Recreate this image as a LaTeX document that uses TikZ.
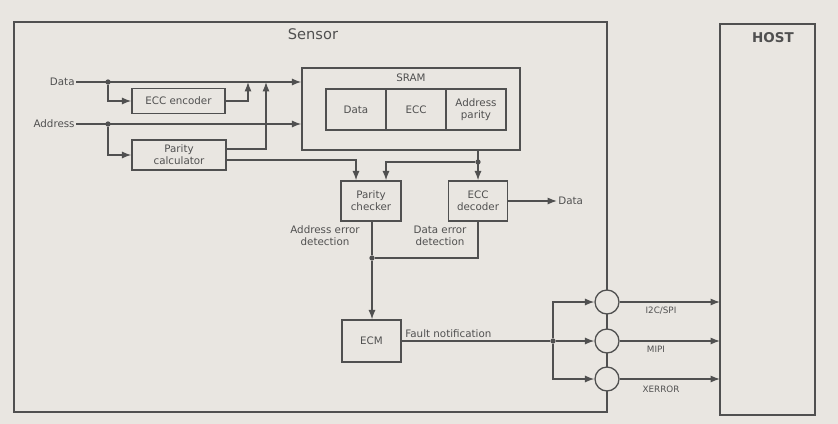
\documentclass[tikz,border=0pt]{standalone}
\usepackage{fontspec}
\setmainfont{DejaVu Sans}
\usetikzlibrary{arrows.meta,calc}
\definecolor{ink}{HTML}{505050}
\definecolor{paper}{HTML}{E9E6E1}
\tikzset{
  wire/.style={draw=ink,line width=1.1pt},
  arr/.style={wire,-{Latex[length=8pt,width=6pt]}},
  blk/.style={draw=ink,line width=1.1pt,align=center,inner sep=0pt,font=\fontsize{8.8}{10}\selectfont,text=ink},
  lbl/.style={font=\fontsize{8.8}{10}\selectfont,text=ink,inner sep=1pt,align=center},
  smalllbl/.style={font=\fontsize{7.5}{8.5}\selectfont,text=ink,inner sep=1pt},
  dot/.style={circle,fill=ink,inner sep=0pt,minimum size=4.5pt},
  port/.style={circle,draw=ink,line width=1.1pt,fill=paper,minimum size=0.72cm,inner sep=0pt}
}
\begin{document}
\begin{tikzpicture}[x=0.03cm,y=-0.03cm]
\fill[paper] (0,0) rectangle (838,424);
\useasboundingbox (0,0) rectangle (838,424);
% outer boxes
\draw[wire] (14,22) rectangle (607,412);
\node[font=\fontsize{12.5}{14}\selectfont,text=ink] (sensorlbl) at (313,34) {Sensor};
\draw[wire] (720,24) rectangle (815,415);
\node[font=\bfseries\fontsize{11.5}{13}\selectfont,text=ink] (hostlbl) at (773,38) {HOST};
\coordinate (hostleft) at (720,200);
% blocks
\node[blk,minimum width=2.79cm,minimum height=0.75cm] (enc) at (178.5,101) {ECC encoder};
\node[blk,minimum width=2.82cm,minimum height=0.9cm] (pcalc) at (179,155) {Parity\\calculator};
\node[blk,minimum width=6.54cm,minimum height=2.46cm] (sram) at (411,109) {};
\node[lbl] (sramlbl) at (411,78) {SRAM};
\node[blk,minimum width=1.8cm,minimum height=1.23cm] (cdata) at (356,109.5) {Data};
\node[blk,minimum width=1.8cm,minimum height=1.23cm] (cecc) at (416,109.5) {ECC};
\node[blk,minimum width=1.8cm,minimum height=1.23cm] (caddr) at (476,109.5) {Address\\parity};
\node[blk,minimum width=1.8cm,minimum height=1.2cm] (chk) at (371,201) {Parity\\checker};
\node[blk,minimum width=1.77cm,minimum height=1.2cm] (dec) at (478,201) {ECC\\decoder};
\node[blk,minimum width=1.77cm,minimum height=1.26cm] (ecm) at (371.5,341) {ECM};
\node[port] (p1) at (607,302) {};
\node[port] (p2) at (607,341) {};
\node[port] (p3) at (607,379) {};
% inputs
\node[lbl,anchor=east] (din) at (76,82) {Data};
\node[lbl,anchor=east] (ain) at (76,124) {Address};
\node[dot] (j1) at (108,82) {};
\node[dot] (j2) at (108,124) {};
\draw[arr] (din.east) -- (din.east -| sram.west);
\draw[arr] (ain.east) -- (ain.east -| sram.west);
\draw[arr] (j1) |- (enc.west);
\draw[arr] (j2) |- (pcalc.west);
\coordinate (encup) at (248,82);
\draw[arr] (enc.east) -| (encup);
\coordinate (pcout1) at ($(pcalc.east)+(0,-6)$);
\coordinate (pcout2) at ($(pcalc.east)+(0,5)$);
\coordinate (pcup) at (266,82);
\draw[arr] (pcout1) -| (pcup);
\coordinate (chkin1) at ($(chk.north)+(-15,0)$);
\coordinate (chkin2) at ($(chk.north)+(15,0)$);
\draw[arr] (pcout2) -| (chkin1);
% SRAM output
\coordinate (sramout) at (sram.south -| dec.north);
\node[dot] (j3) at (478,162) {};
\draw[arr] (sramout) -- (dec.north);
\draw[arr] (j3) -| (chkin2);
% decoder data out
\node[lbl,anchor=west] (dout) at (557,201) {Data};
\draw[arr] (dec.east) -- (dout.west);
% detection
\node[lbl] (adet) at (325,236) {Address error\\detection};
\node[lbl] (ddet) at (440,236) {Data error\\detection};
\node[dot] (j4) at (372,258) {};
\coordinate (decdown) at (dec.south |- j4);
\draw[wire] (chk.south -| j4) -- (j4);
\draw[wire] (dec.south) -- (decdown) -- (j4);
\draw[arr] (j4) -- (j4 |- ecm.north);
% fault notification
\node[dot] (j5) at (553,341) {};
\draw[wire] (ecm.east) -- (j5);
\node[lbl,anchor=south west] (fn) at (404,339) {Fault notification};
\draw[arr] (j5) -- (p2.west);
\draw[arr] (j5) |- (p1.west);
\draw[arr] (j5) |- (p3.west);
% to host
\draw[arr] (p1.east) -- (p1.east -| hostleft);
\draw[arr] (p2.east) -- (p2.east -| hostleft);
\draw[arr] (p3.east) -- (p3.east -| hostleft);
\node[smalllbl] (l1) at (661,311) {I2C/SPI};
\node[smalllbl] (l2) at (656,349) {MIPI};
\node[smalllbl] (l3) at (661,389) {XERROR};
\end{tikzpicture}
\end{document}
